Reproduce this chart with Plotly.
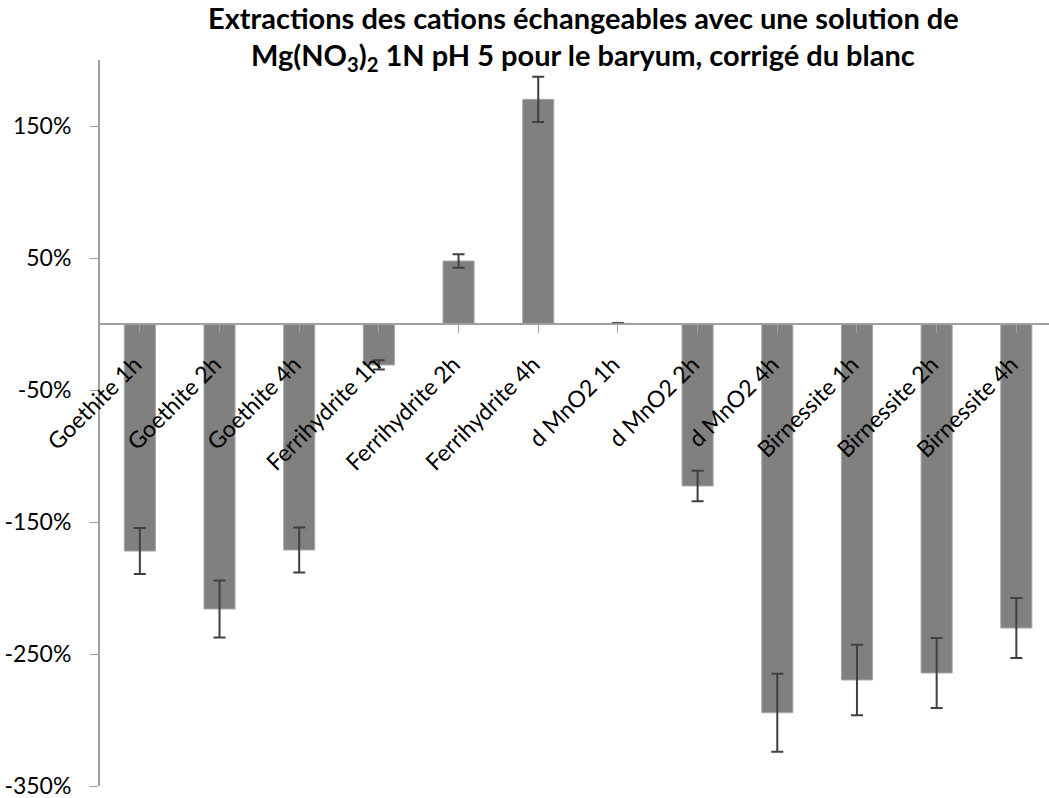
import plotly.graph_objects as go

categories = ["Goethite 1h", "Goethite 2h", "Goethite 4h", "Ferrihydrite 1h",
              "Ferrihydrite 2h", "Ferrihydrite 4h", "d MnO2 1h", "d MnO2 2h",
              "d MnO2 4h", "Birnessite 1h", "Birnessite 2h", "Birnessite 4h"]
values = [-172.0, -215.9, -171.2, -31.0, 47.7, 170.2, 0.5, -122.7,
          -294.5, -269.7, -264.4, -230.3]
errors = [17.4, 21.6, 17.0, 3.5, 5.1, 17.2, 0.3, 11.6, 29.5, 26.7, 26.5, 22.7]
y_ticks = [150, 50, -50, -150, -250, -350]
title_lines = ["<b>Extractions des cations échangeables avec une solution de</b>",
               "<b>Mg(NO<sub>3</sub>)<sub>2</sub> 1N pH 5 pour le baryum, corrigé du blanc</b>"]

FONT = "Lato"
TOP, BOTTOM = 60, 12
PLOT_H = 798 - TOP - BOTTOM

def paper_y(px):
    return (798 - BOTTOM - px) / PLOT_H

fig = go.Figure()
fig.add_trace(go.Bar(
    x=list(range(len(categories))), y=values,
    marker=dict(color="#808080", line=dict(color="#a6a6a6", width=1)),
    width=0.39,
    error_y=dict(type="data", array=errors, visible=True,
                 color="#404040", thickness=2, width=6),
))

fig.update_layout(
    width=1049, height=798,
    paper_bgcolor="white", plot_bgcolor="white",
    margin=dict(l=100, r=0, t=TOP, b=BOTTOM, autoexpand=False),
    showlegend=False,
    font=dict(family=FONT, color="black", size=22),
)

for txt, ypx in zip(title_lines, [17, 57]):
    fig.add_annotation(
        text=txt, xref="paper", yref="paper",
        x=(583 - 100) / 949, y=paper_y(ypx),
        xanchor="center", yanchor="middle", showarrow=False,
        font=dict(family=FONT, size=29, color="black"),
    )

fig.update_xaxes(
    range=[-0.5, 11.41],
    tickvals=list(range(len(categories))), ticktext=categories,
    tickangle=-45,
    tickson="boundaries",
    ticks="outside", ticklen=8, tickcolor="#a0a0a0", tickwidth=1,
    showline=True, linecolor="#a0a0a0", linewidth=2,
    showgrid=False, zeroline=False,
    anchor="free", position=350/550,
    automargin=False,
    ticklabelshift=-5, ticklabelstandoff=9,
    ticklabeloverflow="allow",
    tickfont=dict(family=FONT, size=23, color="black"),
)
fig.update_yaxes(
    range=[-350, 200],
    tickvals=y_ticks, ticktext=[f"{v}%" for v in y_ticks],
    ticks="outside", ticklen=8, tickcolor="#a0a0a0", tickwidth=1,
    showline=True, linecolor="#a0a0a0", linewidth=2,
    showgrid=False, zeroline=False,
    automargin=False,
    ticklabelstandoff=14,
    ticklabeloverflow="allow",
    tickfont=dict(family=FONT, size=23, color="black"),
)

fig.write_html("out.html", config={"displayModeBar": False},
               post_script="document.body.style.margin='0px';")
